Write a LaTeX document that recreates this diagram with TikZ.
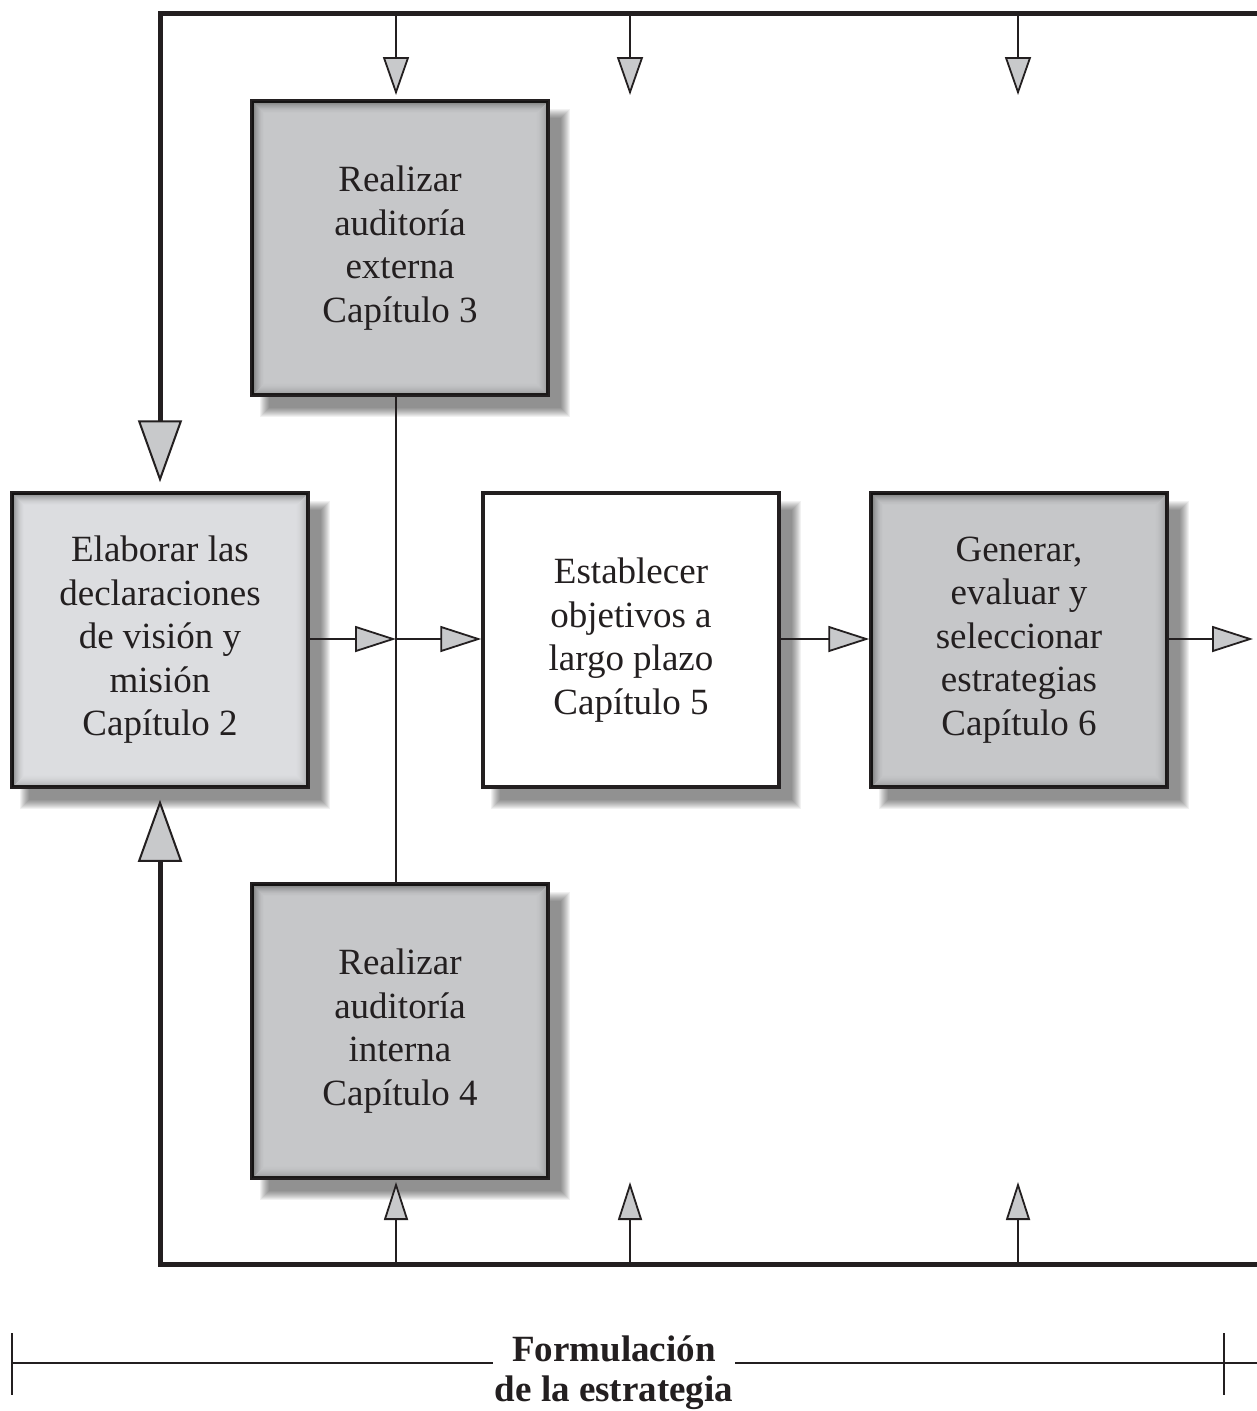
\documentclass[tikz,border=0pt]{standalone}
\usepackage{fontspec}
\setmainfont{Liberation Serif}
\usetikzlibrary{arrows.meta,calc}
\definecolor{tri}{HTML}{C8C9CB}
\definecolor{boxg}{HTML}{C6C7C9}
\definecolor{boxl}{HTML}{DCDDE0}
\definecolor{txt}{HTML}{231F20}
\pgfdeclarelayer{bg}
\pgfsetlayers{bg,main}
\begin{document}
\begin{tikzpicture}[x=1pt,y=-1pt,line join=miter,
  box/.style={draw=txt, line width=3.5pt, minimum width=296pt, minimum height=294pt, inner sep=0pt, align=center, font=\fontsize{37}{43.5}\selectfont, text=txt},
  conn/.style={draw=txt, line width=2pt},
  frame/.style={draw=txt, line width=5pt},
  tipS/.style={-{Triangle[length=38pt,width=26pt,fill=tri,line width=1.8pt]}},
  tipU/.style={-{Triangle[length=38pt,width=24pt,fill=tri,line width=1.8pt]}},
  tipB/.style={-{Triangle[length=62pt,width=44pt,fill=tri,line width=2pt]}},
  tipH/.style={-{Triangle[length=41pt,width=26pt,fill=tri,line width=1.8pt]}}]
\useasboundingbox (0,0) rectangle (1257,1411);

% boxes
\node[box, fill=boxg] (ext) at (400,248) {Realizar\\auditoría\\externa\\Capítulo 3};
\node[box, fill=boxl] (elab) at (160,640) {Elaborar las\\declaraciones\\de visión y\\misión\\Capítulo 2};
\node[box, fill=white] (est) at (631,640) {Establecer\\objetivos a\\largo plazo\\Capítulo 5};
\node[box, fill=boxg] (gen) at (1019,640) {Generar,\\evaluar y\\seleccionar\\estrategias\\Capítulo 6};
\node[box, fill=boxg] (int) at (400,1031) {Realizar\\auditoría\\interna\\Capítulo 4};

% shadows
\begin{pgfonlayer}{bg}
\foreach \n in {ext,elab,est,gen,int}{
  \foreach \k in {0,...,9}{
    \fill[black,opacity=0.055] ($(\n.north west)+(10+\k,10+\k)$) rectangle ($(\n.south east)+(20-\k,20-\k)$);
  }
}
\end{pgfonlayer}

% bevel
\foreach \n in {ext,elab,gen,int}{
  \foreach \k in {1,...,13}{
    \pgfmathsetmacro\op{0.26*(1-\k/14)^2}
    \draw[black,opacity=\op,line width=1pt] ($(\n.south west)+(1.25+\k,-1.25-\k)$) rectangle ($(\n.north east)+(-1.25-\k,1.25+\k)$);
    \draw[black,opacity=\op,line width=1pt] ($(\n.south west)+(1.25+\k,-1.25-\k)$) -- ($(\n.north west)+(1.25+\k,1.25+\k)$) -- ($(\n.north east)+(-1.25-\k,1.25+\k)$);
  }
}

% central connectors
\coordinate (j) at (396,639);
\draw[conn] ($(ext.south)+(-4,0)$) -- ($(int.north)+(-4,0)$);
\draw[conn,tipH] (elab.east |- j) -- (j);
\draw[conn,tipH] (j) -- (est.west |- j);
\draw[conn,tipH] (est.east |- j) -- (gen.west |- j);
\coordinate (out) at (1253,639);
\draw[conn,tipH] (gen.east |- j) -- (out);

% frame
\coordinate (ftl) at (160,13);
\coordinate (fbl) at (160,1264);
\coordinate (ftr) at (1265,13);
\coordinate (fbr) at (1265,1264);
\draw[frame,tipB] (ftr) -- (ftl) -- ([yshift=9pt]elab.north);
\draw[frame,tipB] (fbr) -- (fbl) -- ([yshift=-11pt]elab.south);

% small arrows
\foreach \x in {396,630,1018}{
  \coordinate (ta\x) at (\x,13);
  \coordinate (tb\x) at (\x,95);
  \draw[conn,tipS] (ta\x) -- (tb\x);
  \coordinate (ba\x) at (\x,1264);
  \coordinate (bb\x) at (\x,1182);
  \draw[conn,tipU] (ba\x) -- (bb\x);
}

% bracket
\coordinate (bl) at (12,1363);
\coordinate (br) at (1262,1363);
\draw[conn] (bl) -- (br);
\coordinate (tl1) at (12,1333); \coordinate (tl2) at (12,1395);
\coordinate (tr1) at (1224,1333); \coordinate (tr2) at (1224,1395);
\draw[conn] (tl1) -- (tl2);
\draw[conn] (tr1) -- (tr2);
\node[fill=white, inner xsep=2pt, inner ysep=0pt, align=center, font=\bfseries\fontsize{37}{40}\selectfont, anchor=base, text=txt] (cap) at (614,1401) {Formulación\\de la estrategia};
\end{tikzpicture}
\end{document}
